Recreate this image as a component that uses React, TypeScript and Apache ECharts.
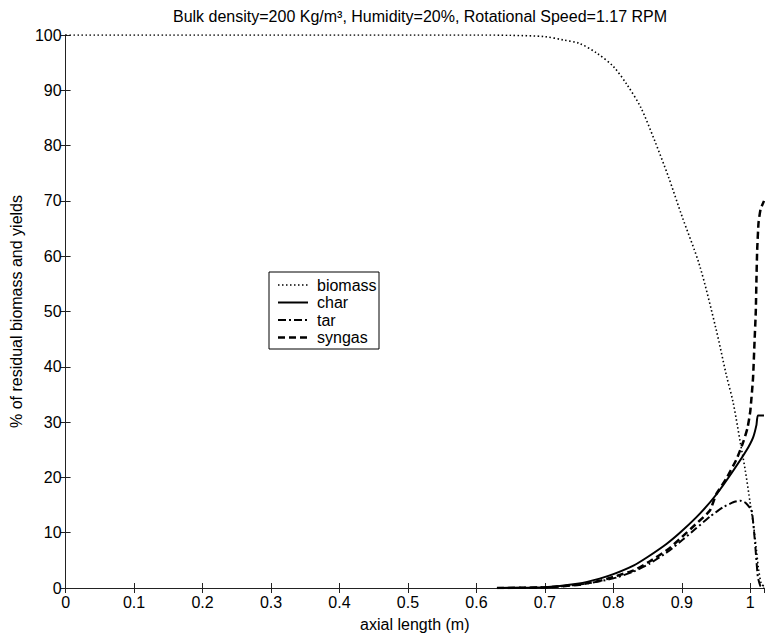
import React, { useEffect, useRef } from "react";
import * as echarts from "echarts";

const titleText = "Bulk density=200 Kg/m³, Humidity=20%, Rotational Speed=1.17 RPM";
const xAxisName = "axial length (m)";
const yAxisName = "% of residual biomass and yields";
const seriesNames = ["biomass", "char", "tar", "syngas"];

const biomassX = [0, 0.6, 0.65, 0.7, 0.727, 0.75, 0.776, 0.8, 0.82, 0.84, 0.86, 0.88, 0.9, 0.926, 0.95, 0.965, 0.975, 0.985, 0.993, 1.0, 1.005, 1.009, 1.012, 1.016, 1.02];
const biomassY = [100, 100, 99.95, 99.7, 99.1, 98.5, 96.7, 94.3, 91.0, 86.9, 81.0, 74.5, 67.3, 58.3, 46.8, 38.5, 33.5, 26.6, 21.0, 15.2, 11.0, 6.8, 3.5, 0.8, 0.3];

const charX = [0.63, 0.7, 0.75, 0.78, 0.8, 0.83, 0.85, 0.878, 0.9, 0.926, 0.951, 0.975, 0.994, 1.004, 1.009, 1.011, 1.02];
const charY = [0, 0.15, 0.8, 1.7, 2.5, 4.1, 5.6, 8.0, 10.3, 13.4, 17.0, 21.2, 24.8, 27.2, 29.5, 31.2, 31.2];

const tarX = [0.63, 0.7, 0.75, 0.78, 0.805, 0.83, 0.853, 0.88, 0.902, 0.92, 0.941, 0.96, 0.975, 0.985, 0.993, 1.002, 1.007, 1.011, 1.015, 1.02];
const tarY = [0, 0.1, 0.6, 1.2, 1.9, 3.0, 4.4, 6.6, 8.8, 10.7, 12.9, 14.6, 15.5, 15.8, 15.4, 14.0, 8.0, 2.0, 0.3, 0];

const syngasX = [0.63, 0.7, 0.75, 0.78, 0.8, 0.83, 0.853, 0.88, 0.9, 0.92, 0.941, 0.95, 0.965, 0.98, 0.99, 0.996, 1.0, 1.004, 1.006, 1.008, 1.009, 1.01, 1.012, 1.015, 1.02];
const syngasY = [0, 0.1, 0.6, 1.3, 2.0, 3.2, 4.8, 7.0, 9.2, 11.5, 14.0, 16.9, 19.8, 23.3, 26.5, 29.0, 32.0, 38.0, 44.0, 50.0, 56.0, 61.0, 66.0, 68.5, 70.0];

const pairs = (xs: number[], ys: number[]) => xs.map((x, i) => [x, ys[i]]);

const FONT = "Liberation Sans, Arial, sans-serif";
const AX = "#222";
const FS = 16;

export default function App() {
  const ref = useRef<HTMLDivElement>(null);
  useEffect(() => {
    if (!ref.current) return;
    const chart = echarts.init(ref.current, undefined, { renderer: "svg" });
    const fmtX = (v: number) => {
      const r = Math.round(v * 10);
      return Math.abs(v * 10 - r) < 1e-6 ? String(r / 10) : "";
    };
    const styles = [
      { type: [1.5, 2.5], width: 1.6 },
      { type: "solid", width: 2 },
      { type: [8, 3, 2, 3], width: 2 },
      { type: [7, 4], width: 2.5 },
    ];
    const data = [
      pairs(biomassX, biomassY),
      pairs(charX, charY),
      pairs(tarX, tarY),
      pairs(syngasX, syngasY),
    ];
    const legendGraphics: any[] = [
      {
        type: "rect",
        shape: { x: 269, y: 272, width: 110, height: 77 },
        style: { fill: "#fff", stroke: "#000", lineWidth: 1 },
        z: 100,
      },
    ];
    seriesNames.forEach((n, i) => {
      const cy = 285 + i * 17.5;
      legendGraphics.push({
        type: "line",
        shape: { x1: 278, y1: cy, x2: 308, y2: cy },
        style: {
          stroke: "#000",
          lineWidth: styles[i].width,
          lineDash: Array.isArray(styles[i].type) ? styles[i].type : null,
        },
        z: 101,
      });
      legendGraphics.push({
        type: "text",
        x: 317,
        y: cy,
        style: {
          text: n,
          fill: "#000",
          font: `${FS}px ${FONT}`,
          verticalAlign: "middle",
          align: "left",
        },
        z: 101,
      });
    });
    chart.setOption({
      animation: false,
      backgroundColor: "#fff",
      title: {
        text: titleText,
        left: 415,
        textAlign: "center",
        top: 3,
        textStyle: { fontFamily: FONT, fontSize: FS, fontWeight: "normal", color: "#000" },
      },
      grid: { left: 65, top: 35, right: 1, bottom: 46, containLabel: false },
      xAxis: [
        {
          type: "value",
          min: 0,
          max: 1.02,
          interval: 0.1,
          position: "bottom",
          name: xAxisName,
          nameLocation: "middle",
          nameGap: 28,
          nameTextStyle: { fontFamily: FONT, fontSize: FS, color: "#000" },
          axisLine: { show: true, lineStyle: { color: AX, width: 1 } },
          axisTick: { show: true, inside: true, length: 5, lineStyle: { color: AX } },
          axisLabel: { fontFamily: FONT, fontSize: FS, color: "#000", margin: 6, formatter: fmtX, showMaxLabel: false },
          splitLine: { show: false },
        },
        {
          type: "value",
          min: 0,
          max: 1.02,
          interval: 0.1,
          position: "top",
          axisLine: { show: true, lineStyle: { color: AX, width: 1 } },
          axisTick: { show: true, inside: true, length: 5, lineStyle: { color: AX } },
          axisLabel: { show: false },
          splitLine: { show: false },
        },
      ],
      yAxis: [
        {
          type: "value",
          min: 0,
          max: 100,
          interval: 10,
          position: "left",
          name: yAxisName,
          nameLocation: "middle",
          nameGap: 40,
          nameTextStyle: { fontFamily: FONT, fontSize: FS, color: "#000" },
          axisLine: { show: true, lineStyle: { color: AX, width: 1 } },
          axisTick: { show: true, inside: true, length: 5, lineStyle: { color: AX } },
          axisLabel: { fontFamily: FONT, fontSize: FS, color: "#000", margin: 4 },
          splitLine: { show: false },
        },
        {
          type: "value",
          min: 0,
          max: 100,
          interval: 10,
          position: "right",
          axisLine: { show: true, lineStyle: { color: AX, width: 1 } },
          axisTick: { show: true, inside: true, length: 5, lineStyle: { color: AX } },
          axisLabel: { show: false },
          splitLine: { show: false },
        },
      ],
      series: seriesNames.map((n, i) => ({
        name: n,
        type: "line",
        data: data[i],
        showSymbol: false,
        symbol: "none",
        smooth: i === 0 ? 0.3 : 0.15,
        lineStyle: { color: "#000", width: styles[i].width, type: styles[i].type },
        z: 3,
      })),
      graphic: legendGraphics,
    });
    return () => chart.dispose();
  }, []);
  return <div ref={ref} style={{ width: 765, height: 637, position: "absolute", left: 0, top: 0 }} />;
}
